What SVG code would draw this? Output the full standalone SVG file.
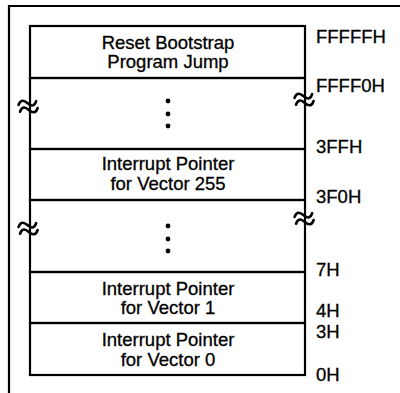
<svg xmlns="http://www.w3.org/2000/svg" width="400" height="393" viewBox="0 0 400 393">
<style>
.ln{stroke:#000;stroke-width:2.2;fill:none}
.sq{stroke:#000;stroke-width:2.6;fill:none;stroke-linecap:round}
.t{font-family:"Liberation Sans",Arial,sans-serif;font-size:18.5px;fill:#000;stroke:#000;stroke-width:0.3;text-anchor:middle}
.a{font-family:"Liberation Sans",Arial,sans-serif;font-size:18.5px;fill:#000;stroke:#000;stroke-width:0.3}
.d{fill:#000}
</style>
<defs>
<path id="squig" transform="rotate(-12)" d="M-9,-3 C-6,-8 -3,-7 0,-3 S6,2 9,-3 M-9,4 C-6,-1 -3,0 0,4 S6,9 9,4"/>
</defs>
<rect width="400" height="393" fill="#fff"/>
<g id="frame">
<path class="ln" d="M9,393 V6 H400"/>
</g>
<g id="connectors">
<use href="#squig" class="sq" x="28" y="106"/>
<use href="#squig" class="sq" x="304" y="99"/>
<use href="#squig" class="sq" x="28" y="228"/>
<use href="#squig" class="sq" x="304" y="218"/>
</g>
<g id="reset">
<rect class="ln" x="30" y="26" width="275" height="52"/>
<text class="t" x="168" y="49">Reset Bootstrap</text>
<text class="t" x="168" y="68">Program Jump</text>
</g>
<g id="gap1">
<rect class="ln" x="30" y="78" width="275" height="71"/>
<circle class="d" cx="168" cy="101" r="2.4"/>
<circle class="d" cx="168" cy="114" r="2.4"/>
<circle class="d" cx="168" cy="126" r="2.4"/>
</g>
<g id="vec255">
<rect class="ln" x="30" y="149" width="275" height="51"/>
<text class="t" x="168" y="170">Interrupt Pointer</text>
<text class="t" x="168" y="190">for Vector 255</text>
</g>
<g id="gap2">
<rect class="ln" x="30" y="200" width="275" height="72"/>
<circle class="d" cx="168" cy="226" r="2.4"/>
<circle class="d" cx="168" cy="239" r="2.4"/>
<circle class="d" cx="168" cy="251" r="2.4"/>
</g>
<g id="vec1">
<rect class="ln" x="30" y="272" width="275" height="51"/>
<text class="t" x="168" y="295">Interrupt Pointer</text>
<text class="t" x="168" y="314">for Vector 1</text>
</g>
<g id="vec0">
<rect class="ln" x="30" y="323" width="275" height="52"/>
<text class="t" x="168" y="346">Interrupt Pointer</text>
<text class="t" x="168" y="366">for Vector 0</text>
</g>
<g id="addresses">
<text class="a" x="316" y="43">FFFFFH</text>
<text class="a" x="316" y="92">FFFF0H</text>
<text class="a" x="316" y="153">3FFH</text>
<text class="a" x="316" y="203">3F0H</text>
<text class="a" x="316" y="276">7H</text>
<text class="a" x="316" y="317">4H</text>
<text class="a" x="316" y="338">3H</text>
<text class="a" x="316" y="381">0H</text>
</g>
</svg>
